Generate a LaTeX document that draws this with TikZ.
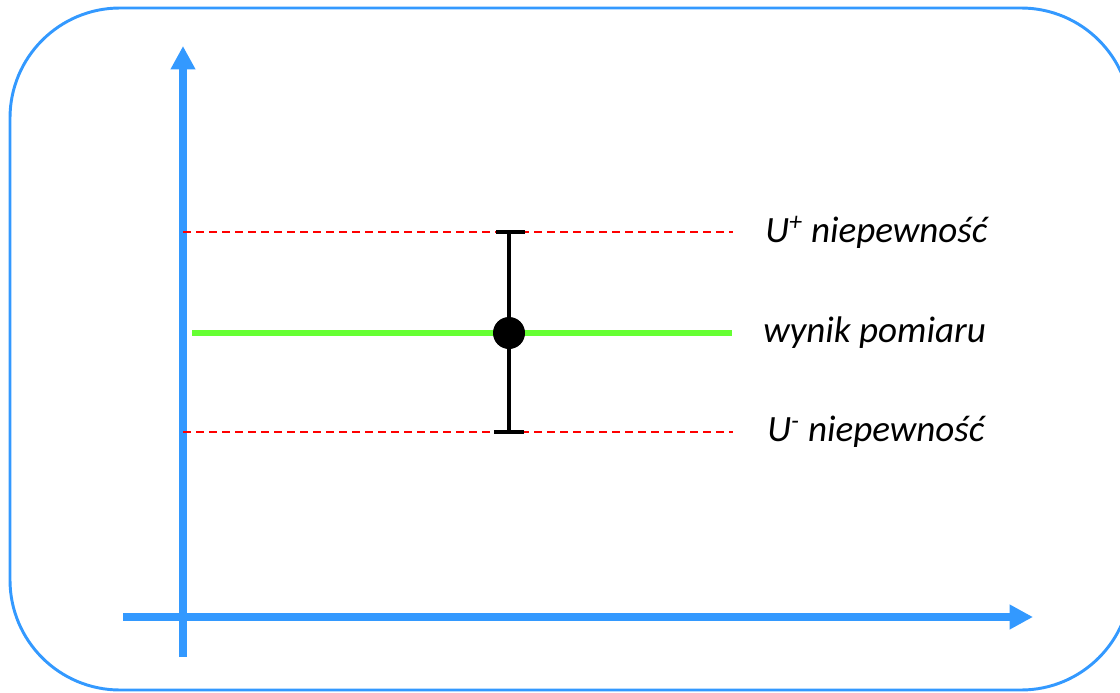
\documentclass[tikz,border=0pt]{standalone}
\usepackage{fontspec}
\setmainfont{Carlito}
\usetikzlibrary{arrows.meta}
\definecolor{axisblue}{RGB}{51,153,255}
\definecolor{resgreen}{RGB}{102,255,51}
\definecolor{limred}{RGB}{255,0,0}
\tikzset{
  frame/.style={draw=axisblue, line width=2.2pt, rounded corners=82.5pt},
  axis/.style={draw=axisblue, line width=6pt, -{Triangle[length=17.5pt,width=17.5pt]}},
  limit/.style={draw=limred, line width=1.1pt, dash pattern=on 6pt off 3.75pt},
  result/.style={draw=resgreen, line width=4.5pt},
  errbar/.style={draw=black, line width=3pt},
  label/.style={anchor=west, inner sep=0pt, font=\fontsize{27.8}{33}\selectfont\itshape},
  point/.style={circle, fill=black, minimum size=24pt, inner sep=0pt}
}
\begin{document}
\begin{tikzpicture}[x=0.75pt, y=-0.75pt]
  \useasboundingbox (0,0) rectangle (1120,692);
  \clip (0,0) rectangle (1120,692);
  % outer rounded frame
  \draw[frame] (10,8) rectangle (1131,690);
  % axes
  \coordinate (ybot) at (183,657);
  \coordinate (ytop) at (183,46);
  \coordinate (xleft) at (123,617);
  \coordinate (xright) at (1033,617);
  \draw[axis] (xleft) -- (xright);
  \draw[axis] (ybot) -- (ytop);
  % limit lines
  \coordinate (upl) at (183,232);
  \coordinate (upr) at (733,232);
  \coordinate (lol) at (183,432);
  \coordinate (lor) at (733,432);
  \draw[limit] (upl) -- (upr);
  \draw[limit] (lol) -- (lor);
  % measured value
  \coordinate (resl) at (192,333);
  \coordinate (resr) at (732,333);
  \draw[result] (resl) -- (resr);
  % error bar
  \coordinate (bartop) at (509,232);
  \coordinate (barbot) at (509,432);
  \coordinate (captl) at (496,232);
  \coordinate (captr) at (525,232);
  \coordinate (capbl) at (494,432);
  \coordinate (capbr) at (524,432);
  \draw[errbar] (bartop) -- (barbot);
  \draw[errbar] (captl) -- (captr);
  \draw[errbar] (capbl) -- (capbr);
  \node[point] (dot) at (509,333) {};
  % labels
  \node[label] (lblup) at (765,232) {U\textsuperscript{+} niepewność};
  \node[label] (lblmid) at (763,333) {wynik pomiaru};
  \node[label] (lbldown) at (767,432) {U\textsuperscript{-} niepewność};
\end{tikzpicture}
\end{document}
